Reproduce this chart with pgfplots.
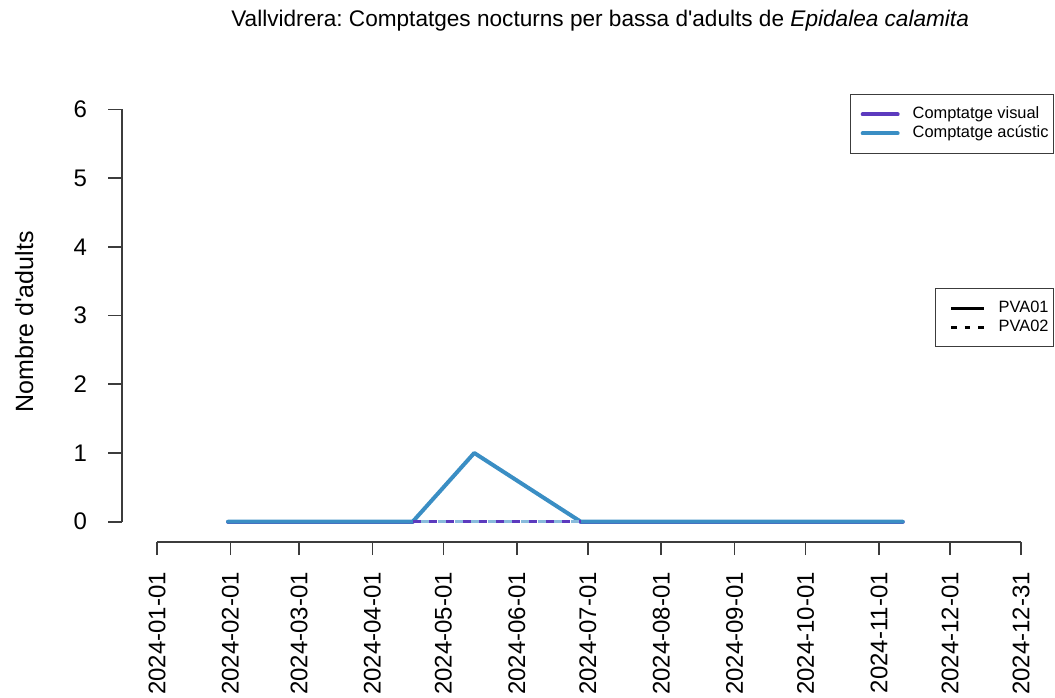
\documentclass[border=0pt]{standalone}
\usepackage{fontspec}
\setmainfont{Liberation Sans}
\usepackage{pgfplots}
\pgfplotsset{compat=1.18}
\frenchspacing

\definecolor{visual}{RGB}{92,58,190}
\definecolor{acustic}{RGB}{58,142,196}
\definecolor{axiscol}{RGB}{60,60,60}

% x = day of year 2024 (0 = 1 Jan)
\pgfplotsset{
  basechart/.style={
    scale only axis,
    width=466pt, height=223.85pt,
    xmin=-14.8, xmax=378.9,
    ymin=-0.291, ymax=6.223,
    clip=false,
  },
  lg/.style={
    legend cell align=left,
    legend style={draw=axiscol, line width=0.5pt, fill=white,
      font=\fontsize{8.2}{10}\selectfont,
      inner xsep=2pt, inner ysep=5.75pt, row sep=1pt,
      nodes={inner sep=0.5pt},
      /tikz/every odd column/.append style={column sep=6pt}},
  },
}

\begin{document}
\begin{tikzpicture}
\path[use as bounding box] (-61pt,-77.65pt) rectangle (466.5pt,270.85pt);
\begin{axis}[
  basechart, lg,
  legend image code/.code={\path (0pt,0pt); \draw[#1] (3pt,0pt) -- (20.5pt,0pt);},
  axis x line*=bottom, axis y line*=left,
  axis line style={draw=none},
  tick align=outside,
  major tick length=6.75pt,
  tick style={axiscol, line width=0.8pt},
  xtick={0,31,60,91,121,152,182,213,244,274,305,335,365},
  xticklabels={2024-01-01,2024-02-01,2024-03-01,2024-04-01,2024-05-01,2024-06-01,2024-07-01,2024-08-01,2024-09-01,2024-10-01,2024-11-01,2024-12-01,2024-12-31},
  xticklabel style={rotate=90, anchor=east, inner sep=0pt, font=\fontsize{12}{14}\selectfont},
  xticklabel shift=8.25pt,
  ytick={0,1,2,3,4,5,6},
  yticklabel style={anchor=east, inner sep=0pt, font=\fontsize{12}{14}\selectfont},
  yticklabel shift=10.5pt,
  /pgf/number format/assume math mode=true,
  ylabel={Nombre d\textquotesingle adults},
  ylabel style={at={(axis description cs:-0.105,0.491)}, anchor=center, font=\fontsize{12.5}{14}\selectfont},
  title={Vallvidrera: Comptatges nocturns per bassa d\textquotesingle adults de \textit{Epidalea calamita}},
  title style={at={(axis description cs:0.513,1.136)}, anchor=center, font=\fontsize{11.3}{13}\selectfont},
  legend style={at={(rel axis cs:1,1)}, anchor=north east},
  unbounded coords=jump,
]
% PVA01 visual
\addplot[visual, line width=2pt, line cap=round, line join=round] coordinates {
  (30,0) (108,0) (179,nan) (179,0) (315,0)
};
\addlegendentry{Comptatge visual}
% PVA01 acoustic
\addplot[acustic, line width=2pt, line cap=round, line join=round] coordinates {
  (30,0) (108,0) (134,1) (179,0) (315,0)
};
\addlegendentry{Comptatge acústic}
% PVA02 acoustic and visual
\addplot[acustic!60, line width=1.6pt, dash pattern=on 4pt off 4.3pt, dash phase=4pt, forget plot] coordinates {
  (108,0) (134,0) (179,0)
};
\addplot[visual, line width=1.6pt, dash pattern=on 4pt off 4.3pt, forget plot] coordinates {
  (108,0) (134,0) (179,0)
};
\draw[axiscol, line width=0.8pt] (axis cs:0,-0.291) -- (axis cs:365,-0.291);
\draw[axiscol, line width=0.8pt] (axis cs:-14.8,0) -- (axis cs:-14.8,6);
\end{axis}
\begin{axis}[
  basechart, lg, hide axis,
  legend image code/.code={\path (0pt,0pt); \draw[#1] (5pt,0pt) -- (21.5pt,0pt);},
  legend style={at={(rel axis cs:1,0.5)}, anchor=east},
]
\addlegendimage{black, line width=1.5pt}
\addlegendentry{PVA01}
\addlegendimage{black, line width=1.5pt, dash pattern=on 2.75pt off 4pt}
\addlegendentry{PVA02}
\end{axis}
\end{tikzpicture}
\end{document}
